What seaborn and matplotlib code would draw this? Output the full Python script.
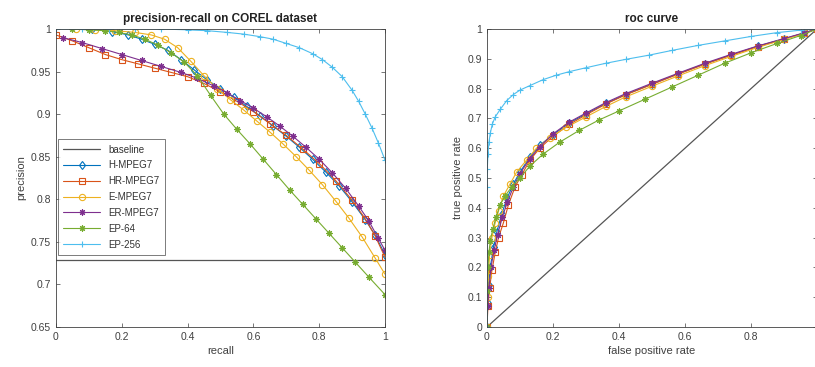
"""Precision-recall and ROC curves on COREL, MATLAB-like look."""

import matplotlib
matplotlib.use("Agg")
import matplotlib.pyplot as plt
import seaborn as sns

# ---- data -------------------------------------------------------------
series_names = ["H-MPEG7", "HR-MPEG7", "E-MPEG7", "ER-MPEG7", "EP-64", "EP-256"]

# precision-recall
pr_baseline_x = [0.0, 1.0]
pr_baseline_y = [0.729, 0.729]

h_rec = [0.11, 0.17, 0.22, 0.26, 0.30, 0.34, 0.38, 0.42, 0.46, 0.50, 0.54, 0.58,
         0.62, 0.66, 0.70, 0.74, 0.78, 0.82, 0.86, 0.90, 0.94, 0.97, 1.00]
h_prec = [1.0, 0.997, 0.993, 0.988, 0.982, 0.975, 0.964, 0.952, 0.940, 0.930, 0.920, 0.909,
          0.898, 0.886, 0.874, 0.861, 0.847, 0.832, 0.816, 0.797, 0.776, 0.758, 0.735]

hr_rec = [0.0, 0.05, 0.10, 0.15, 0.20, 0.25, 0.30, 0.35, 0.40, 0.45, 0.50, 0.55,
          0.60, 0.65, 0.70, 0.75, 0.80, 0.85, 0.90, 0.94, 0.97, 1.0]
hr_prec = [0.993, 0.986, 0.978, 0.970, 0.964, 0.959, 0.954, 0.949, 0.944, 0.936, 0.926, 0.915,
           0.903, 0.889, 0.875, 0.859, 0.842, 0.822, 0.799, 0.777, 0.757, 0.732]

e_rec = [0.06, 0.12, 0.18, 0.24, 0.29, 0.33, 0.37, 0.41, 0.45, 0.49, 0.53, 0.57,
         0.61, 0.65, 0.69, 0.73, 0.77, 0.81, 0.85, 0.89, 0.93, 0.97, 1.0]
e_prec = [1.0, 0.999, 0.998, 0.996, 0.993, 0.988, 0.978, 0.962, 0.945, 0.930, 0.917, 0.905,
          0.892, 0.879, 0.865, 0.850, 0.834, 0.817, 0.798, 0.778, 0.756, 0.731, 0.712]

er_rec = [0.02, 0.08, 0.14, 0.20, 0.26, 0.32, 0.38, 0.43, 0.48, 0.52, 0.56, 0.60,
          0.64, 0.68, 0.72, 0.76, 0.80, 0.84, 0.88, 0.92, 0.95, 0.98, 1.0]
er_prec = [0.990, 0.984, 0.977, 0.970, 0.963, 0.956, 0.949, 0.942, 0.933, 0.925, 0.916, 0.907,
           0.897, 0.886, 0.874, 0.861, 0.847, 0.831, 0.813, 0.792, 0.775, 0.754, 0.740]

ep64_rec = [0.05, 0.10, 0.15, 0.19, 0.23, 0.27, 0.31, 0.35, 0.39, 0.43, 0.47, 0.51,
            0.55, 0.59, 0.63, 0.67, 0.71, 0.75, 0.79, 0.83, 0.87, 0.91, 0.95, 1.0]
ep64_prec = [1.0, 0.999, 0.998, 0.996, 0.993, 0.988, 0.981, 0.972, 0.961, 0.945, 0.922, 0.900,
             0.882, 0.865, 0.847, 0.829, 0.811, 0.794, 0.777, 0.760, 0.743, 0.726, 0.709, 0.688]

ep256_rec = [0.0, 0.08, 0.16, 0.24, 0.32, 0.40, 0.46, 0.52, 0.57, 0.62, 0.66, 0.70,
             0.74, 0.78, 0.81, 0.84, 0.87, 0.90, 0.92, 0.94, 0.96, 0.98, 1.0]
ep256_prec = [1.0, 1.0, 1.0, 1.0, 1.0, 0.999, 0.998, 0.996, 0.994, 0.991, 0.988, 0.983,
              0.978, 0.971, 0.964, 0.955, 0.944, 0.928, 0.915, 0.900, 0.884, 0.866, 0.846]

# roc
roc_baseline = [0.0, 1.0]

h_fpr = [0, 0.002, 0.005, 0.01, 0.02, 0.03, 0.045, 0.06, 0.08, 0.10, 0.13, 0.16, 0.20,
         0.25, 0.30, 0.36, 0.42, 0.50, 0.58, 0.66, 0.74, 0.82, 0.90, 0.96, 1.0]
h_tpr = [0, 0.08, 0.14, 0.20, 0.27, 0.32, 0.38, 0.43, 0.48, 0.52, 0.57, 0.61, 0.645,
         0.685, 0.715, 0.75, 0.78, 0.815, 0.85, 0.883, 0.913, 0.942, 0.967, 0.986, 1.0]

hr_fpr = [0, 0.003, 0.008, 0.015, 0.025, 0.035, 0.05, 0.065, 0.085, 0.105, 0.13, 0.16, 0.20,
          0.25, 0.30, 0.36, 0.42, 0.50, 0.58, 0.66, 0.74, 0.82, 0.90, 0.96, 1.0]
hr_tpr = [0, 0.07, 0.13, 0.19, 0.25, 0.30, 0.35, 0.41, 0.47, 0.51, 0.56, 0.60, 0.64,
          0.68, 0.712, 0.748, 0.779, 0.814, 0.849, 0.882, 0.912, 0.941, 0.966, 0.986, 1.0]

e_fpr = [0, 0.002, 0.004, 0.008, 0.015, 0.025, 0.035, 0.05, 0.07, 0.09, 0.12, 0.15, 0.19,
         0.24, 0.30, 0.36, 0.42, 0.50, 0.58, 0.66, 0.74, 0.82, 0.90, 0.96, 1.0]
e_tpr = [0, 0.10, 0.17, 0.24, 0.30, 0.35, 0.39, 0.44, 0.48, 0.52, 0.56, 0.60, 0.635,
         0.67, 0.705, 0.74, 0.772, 0.808, 0.843, 0.877, 0.908, 0.938, 0.965, 0.985, 1.0]

er_fpr = [0, 0.002, 0.006, 0.012, 0.022, 0.032, 0.047, 0.062, 0.08, 0.10, 0.13, 0.16, 0.20,
          0.25, 0.30, 0.36, 0.42, 0.50, 0.58, 0.66, 0.74, 0.82, 0.90, 0.96, 1.0]
er_tpr = [0, 0.07, 0.13, 0.20, 0.26, 0.31, 0.37, 0.42, 0.47, 0.515, 0.565, 0.605, 0.648,
          0.688, 0.718, 0.753, 0.783, 0.818, 0.852, 0.885, 0.915, 0.943, 0.968, 0.987, 1.0]

ep64_fpr = [0, 0.001, 0.003, 0.006, 0.01, 0.018, 0.028, 0.04, 0.055, 0.075, 0.10, 0.13,
            0.17, 0.22, 0.28, 0.34, 0.40, 0.48, 0.56, 0.64, 0.72, 0.80, 0.88, 0.95, 1.0]
ep64_tpr = [0, 0.12, 0.20, 0.25, 0.29, 0.33, 0.37, 0.41, 0.44, 0.47, 0.50, 0.54,
            0.58, 0.62, 0.66, 0.695, 0.725, 0.765, 0.805, 0.845, 0.885, 0.92, 0.952, 0.978, 1.0]

ep256_fpr = [0, 0, 0.001, 0.003, 0.006, 0.01, 0.016, 0.025, 0.04, 0.06, 0.08, 0.10, 0.13,
             0.17, 0.21, 0.25, 0.30, 0.36, 0.42, 0.49, 0.56, 0.64, 0.72, 0.80, 0.88, 0.95, 1.0]
ep256_tpr = [0, 0.47, 0.53, 0.58, 0.62, 0.65, 0.68, 0.705, 0.73, 0.76, 0.78, 0.795, 0.81,
             0.83, 0.845, 0.857, 0.87, 0.885, 0.898, 0.912, 0.928, 0.945, 0.96, 0.975, 0.988, 0.996, 1.0]

pr_curves = [(h_rec, h_prec), (hr_rec, hr_prec), (e_rec, e_prec),
             (er_rec, er_prec), (ep64_rec, ep64_prec), (ep256_rec, ep256_prec)]
roc_curves = [(h_fpr, h_tpr), (hr_fpr, hr_tpr), (e_fpr, e_tpr),
              (er_fpr, er_tpr), (ep64_fpr, ep64_tpr), (ep256_fpr, ep256_tpr)]

pr_yticks = [0.65, 0.7, 0.75, 0.8, 0.85, 0.9, 0.95, 1.0]
pr_ylabels = ["0.65", "0.7", "0.75", "0.8", "0.85", "0.9", "0.95", "1"]
x_ticks = [0, 0.2, 0.4, 0.6, 0.8, 1.0]
pr_xlabels = ["0", "0.2", "0.4", "0.6", "0.8", "1"]
roc_xlabels = ["0", "0.2", "0.4", "0.6", "0.8", ""]   # the "1" falls off the page
roc_yticks = [0, 0.1, 0.2, 0.3, 0.4, 0.5, 0.6, 0.7, 0.8, 0.9, 1.0]
roc_ylabels = ["0", "0.1", "0.2", "0.3", "0.4", "0.5", "0.6", "0.7", "0.8", "0.9", "1"]

# ---- style ------------------------------------------------------------
colors = ["#0072BD", "#D95319", "#EDB120", "#7E2F8E", "#77AC30", "#4DBEEE"]
markers = ["d", "s", "o", (8, 2, 0), (8, 2, 0), "+"]
AX_COLOR = "#404040"

sns.set_theme(style="ticks")
plt.rcParams["font.family"] = ["Liberation Sans", "DejaVu Sans"]
plt.rcParams.update({
    "xtick.direction": "in", "ytick.direction": "in",
    "xtick.top": True, "ytick.right": True,
    "xtick.major.size": 3, "ytick.major.size": 3,
    "xtick.major.width": 0.5, "ytick.major.width": 0.5,
    "xtick.color": AX_COLOR, "ytick.color": AX_COLOR,
    "axes.edgecolor": AX_COLOR, "axes.linewidth": 0.6,
    "xtick.labelsize": 7.5, "ytick.labelsize": 7.5,
})


def draw_curves(ax, curves):
    for (xs, ys), name, c, m in zip(curves, series_names, colors, markers):
        sns.lineplot(x=xs, y=ys, ax=ax, sort=False, estimator=None, color=c,
                     linewidth=0.8, marker=m, markersize=4.5, markerfacecolor="none",
                     markeredgecolor=c, markeredgewidth=0.8, label=name)


def finish_axes(ax, title, xlabel, ylabel, xlabels):
    ax.set_title(title, fontsize=8.5, fontweight="bold", color="#222222", pad=5)
    ax.set_xlabel(xlabel, fontsize=8, color=AX_COLOR, labelpad=3)
    ax.set_ylabel(ylabel, fontsize=8, color=AX_COLOR, labelpad=3)
    ax.set_xlim(0, 1)
    ax.set_xticks(x_ticks)
    ax.set_xticklabels(xlabels)


fig = plt.figure(figsize=(8.15, 3.67), dpi=100)
ax1 = fig.add_axes([0.0687, 0.109, 0.4037, 0.812])
ax2 = fig.add_axes([0.5975, 0.109, 0.405, 0.812])

# precision-recall panel
sns.lineplot(x=pr_baseline_x, y=pr_baseline_y, ax=ax1, color="#555555",
             linewidth=0.9, label="baseline")
draw_curves(ax1, pr_curves)
finish_axes(ax1, "precision-recall on COREL dataset", "recall", "precision", pr_xlabels)
ax1.set_ylim(0.65, 1.0)
ax1.set_yticks(pr_yticks)
ax1.set_yticklabels(pr_ylabels)
leg = ax1.legend(loc="lower left", bbox_to_anchor=(0.006, 0.242), fontsize=7,
                 frameon=True, fancybox=False, edgecolor=AX_COLOR, borderaxespad=0,
                 handlelength=3.8, labelspacing=0.6, borderpad=0.55)
leg.get_frame().set_linewidth(0.6)
for t in leg.get_texts():
    t.set_color("#333333")

# roc panel
sns.lineplot(x=roc_baseline, y=roc_baseline, ax=ax2, color="#555555",
             linewidth=0.9, legend=False)
draw_curves(ax2, roc_curves)
ax2.get_legend().remove()
finish_axes(ax2, "roc curve", "false positive rate", "true positive rate", roc_xlabels)
ax2.set_ylim(0, 1.0)
ax2.set_yticks(roc_yticks)
ax2.set_yticklabels(roc_ylabels)

fig.savefig("out.png", dpi=100)
plt.close(fig)
